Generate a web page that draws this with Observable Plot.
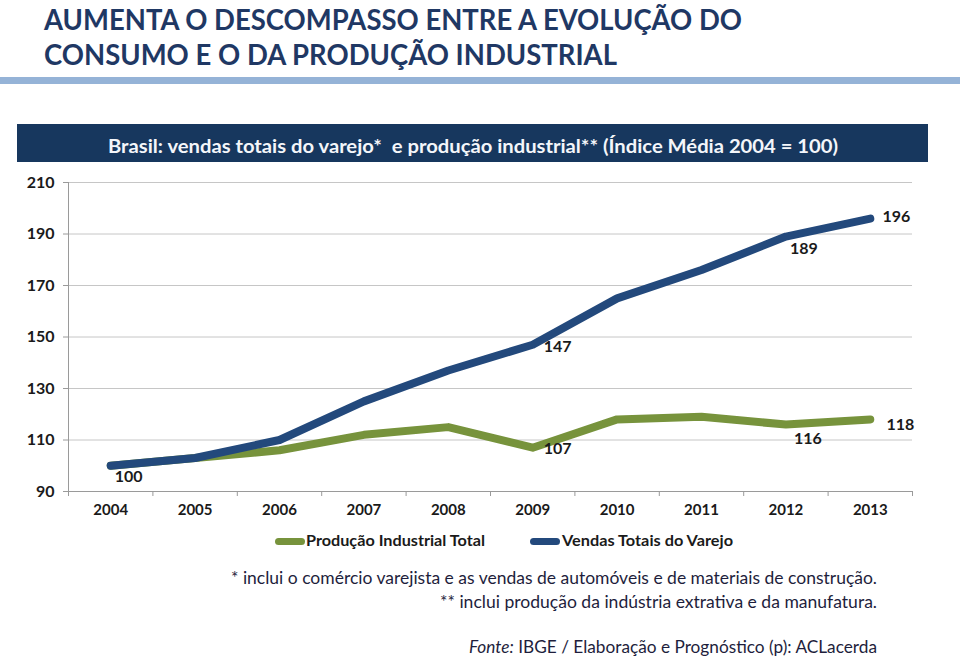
<!DOCTYPE html>
<html>
<head>
<meta charset="utf-8">
<script src="https://cdn.jsdelivr.net/npm/d3@7"></script>
<script src="https://cdn.jsdelivr.net/npm/@observablehq/plot@0.6"></script>
<style>
  html, body { margin: 0; padding: 0; background: #fff; }
  body { width: 960px; height: 661px; position: relative; overflow: hidden; font-family: Lato, "Open Sans", sans-serif; }
  .t { position: absolute; white-space: nowrap; line-height: 1; font-family: Lato, "Open Sans", sans-serif; }
  .bar { position: absolute; }
  #chart { position: absolute; left: 0; top: 170px; }
  .sw { position: absolute; height: 7px; border-radius: 4px; }
</style>
</head>
<body>
<div class="bar" style="left:0;top:77px;width:960px;height:7px;background:#95b3d7"></div>
<div class="bar" style="left:17px;top:124px;width:911px;height:38px;background:#17375e"></div>
<div id="chart"></div>
<div class="sw" style="left:275px;top:538px;width:30px;background:#77933c"></div>
<div class="sw" style="left:530px;top:538px;width:30px;background:#23497c"></div>
<script>
// ---- data ----
const years = [2004, 2005, 2006, 2007, 2008, 2009, 2010, 2011, 2012, 2013];
const vendasVarejo = [100, 103, 110, 125, 137, 147, 165, 176, 189, 196];
const producaoIndustrial = [100, 103, 106, 112, 115, 107, 118, 119, 116, 118];
const yTicks = [90, 110, 130, 150, 170, 190, 210];
const seriesNames = ["Produção Industrial Total", "Vendas Totais do Varejo"];
// labelled points
const vendasLabelYears = [2004, 2009, 2012, 2013];
const producaoLabelYears = [2009, 2012, 2013];

const titleLines = ["AUMENTA O DESCOMPASSO ENTRE A EVOLUÇÃO DO", "CONSUMO E O DA PRODUÇÃO INDUSTRIAL"];
const subtitle = "Brasil: vendas totais do varejo*&nbsp; e produção industrial** (Índice Média 2004 = 100)";
const notes = ["* inclui o comércio varejista e as vendas de automóveis e de materiais de construção.",
               "** inclui produção da indústria extrativa e da manufatura."];
const source = "<i>Fonte:</i> IBGE / Elaboração e Prognóstico (p): ACLacerda";

// ---- helpers ----
function place(txt, o) {
  const d = document.createElement("div");
  d.className = "t";
  d.innerHTML = txt;
  d.style.fontSize = o.size + "px";
  d.style.fontWeight = o.weight || 400;
  d.style.color = o.color;
  d.style.top = (o.baseline - 0.887 * o.size) + "px";
  document.body.appendChild(d);
  const w = d.getBoundingClientRect().width;
  const s = (o.right - o.left) / w;
  d.style.left = o.left + "px";
  d.style.transformOrigin = "0 0";
  d.style.transform = `scaleX(${s})`;
}

place(titleLines[0], {left: 44, right: 742, baseline: 30, size: 28, weight: 700, color: "#1f3864"});
place(titleLines[1], {left: 44, right: 617, baseline: 64.5, size: 28, weight: 700, color: "#1f3864"});
place(subtitle, {left: 108, right: 838, baseline: 153, size: 19, weight: 700, color: "#f4f6fa"});
place(seriesNames[0], {left: 306, right: 485, baseline: 546, size: 15, weight: 700, color: "#1a1a1a"});
place(seriesNames[1], {left: 562, right: 733, baseline: 546, size: 15, weight: 700, color: "#1a1a1a"});
place(notes[0], {left: 231, right: 877, baseline: 584, size: 17, color: "#1e1e3c"});
place(notes[1], {left: 440, right: 877, baseline: 608, size: 17, color: "#1e1e3c"});
place(source, {left: 469, right: 877, baseline: 653, size: 17, color: "#1e1e3c"});

// ---- chart ----
const vendas = years.map((y, i) => ({year: y, value: vendasVarejo[i]}));
const producao = years.map((y, i) => ({year: y, value: producaoIndustrial[i]}));
const boundaries = years.map(y => y - 0.5).concat([years[years.length - 1] + 0.5]);
const pick = (arr, y) => arr.filter(d => d.year === y);

const labelStyle = {x: "year", y: "value", text: d => String(d.value), fontWeight: 700, fontSize: 16, fill: "#1a1a1a"};
const offsets = {
  v2004: [18, 11], v2009: [25, 2], v2012: [18, 12], v2013: [26, -2],
  p2009: [25, 1], p2012: [22, 14], p2013: [30, 5]
};
const labelMarks = [];
vendasLabelYears.forEach(y => {
  const [dx, dy] = offsets["v" + y];
  labelMarks.push(Plot.text(pick(vendas, y), {...labelStyle, dx, dy}));
});
producaoLabelYears.forEach(y => {
  const [dx, dy] = offsets["p" + y];
  labelMarks.push(Plot.text(pick(producao, y), {...labelStyle, dx, dy}));
});

const chart = Plot.plot({
  width: 960,
  height: 360,
  marginLeft: 68,
  marginRight: 48,
  marginTop: 12,
  marginBottom: 39,
  style: {fontFamily: "Lato, 'Open Sans', sans-serif", fontSize: "15px", color: "#1a1a1a", background: "transparent"},
  x: {domain: [years[0] - 0.5, years[years.length - 1] + 0.5]},
  y: {domain: [yTicks[0], yTicks[yTicks.length - 1]]},
  marks: [
    Plot.gridY(yTicks.slice(1), {stroke: "#c6c6c6", strokeOpacity: 1}),
    Plot.ruleY([yTicks[0]], {stroke: "#9a9a9a"}),
    Plot.ruleX([boundaries[0]], {stroke: "#9a9a9a"}),
    Plot.axisY(yTicks, {tickSize: 5, tickPadding: 9, fontWeight: 700, fontSize: 16, stroke: "#9a9a9a", label: null, tickFormat: d => String(d)}),
    Plot.axisX(boundaries, {tickSize: 5, stroke: "#9a9a9a", tickFormat: () => "", label: null}),
    Plot.axisX(years, {tickSize: 0, tickPadding: 13, fontWeight: 700, fontSize: 15, tickFormat: d => String(d), label: null}),
    Plot.line(producao, {x: "year", y: "value", stroke: "#77933c", strokeWidth: 8, strokeLinecap: "round", strokeLinejoin: "round"}),
    Plot.line(vendas, {x: "year", y: "value", stroke: "#23497c", strokeWidth: 8, strokeLinecap: "round", strokeLinejoin: "round"}),
    ...labelMarks
  ]
});
document.getElementById("chart").appendChild(chart);
</script>
</body>
</html>
